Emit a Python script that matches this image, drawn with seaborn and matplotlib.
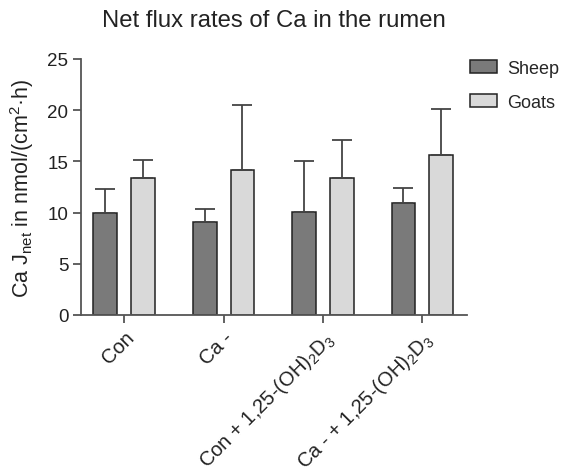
import matplotlib
matplotlib.use("Agg")
import matplotlib.pyplot as plt
import seaborn as sns
import pandas as pd
import numpy as np

categories = ["Con", "Ca -", "Con + 1,25-(OH)$_2$D$_3$", "Ca - + 1,25-(OH)$_2$D$_3$"]
species = ["Sheep", "Goats"]
sheep_mean = [10.0, 9.05, 10.1, 10.95]
sheep_err = [2.27, 1.35, 4.9, 1.48]
goats_mean = [13.35, 14.2, 13.35, 15.63]
goats_err = [1.82, 6.28, 3.77, 4.49]

sns.set_theme(style="ticks")
plt.rcParams['font.family'] = ['Liberation Sans', 'DejaVu Sans']
plt.rcParams['mathtext.fontset'] = 'custom'
plt.rcParams['mathtext.rm'] = 'Liberation Sans'
plt.rcParams['mathtext.it'] = 'Liberation Sans'

rows = []
for c, m in zip(categories, sheep_mean):
    rows.append({"Group": c, "Species": "Sheep", "Value": m})
for c, m in zip(categories, goats_mean):
    rows.append({"Group": c, "Species": "Goats", "Value": m})
df = pd.DataFrame(rows)

fig = plt.figure(figsize=(5.65, 4.77), dpi=100)
ax = fig.add_axes([81/565, 1-316/477, (467-81)/565, (316-60)/477])

palette = {"Sheep": "#7a7a7a", "Goats": "#d9d9d9"}
sns.barplot(data=df, x="Group", y="Value", hue="Species", order=categories,
            hue_order=species, palette=palette, width=0.76, gap=0.37,
            edgecolor="#222222", linewidth=1.1, ax=ax, errorbar=None, saturation=1)

errs = {"Sheep": sheep_err, "Goats": goats_err}
means = {"Sheep": sheep_mean, "Goats": goats_mean}
for sp, cont in zip(species, ax.containers):
    xs = [p.get_x() + p.get_width() / 2 for p in cont.patches]
    e = errs[sp]
    ax.errorbar(xs, means[sp], yerr=[np.zeros(len(e)), e], fmt="none",
                ecolor="#444444", elinewidth=1.3, capsize=7.5, capthick=1.3, zorder=1)

ax.set_ylim(0, 25)
ax.set_yticks([0, 5, 10, 15, 20, 25])
ax.set_xlim(-0.435, 3.45)
ax.set_xlabel("")
ax.set_ylabel("Ca J$_{net}$ in nmol/(cm$^{2}$·h)", fontsize=15.5, color="#222222", labelpad=8)
ax.set_title("Net flux rates of Ca in the rumen", fontsize=17.2, color="#222222", pad=24)
sns.despine(ax=ax)
for s in ["left", "bottom"]:
    ax.spines[s].set_linewidth(1.3)
    ax.spines[s].set_color("#555555")
ax.tick_params(axis="both", width=1.3, length=6, color="#555555", labelsize=13.5,
               labelcolor="#222222", pad=3)
ax.set_xticks(range(len(categories)))
ax.set_xticklabels(categories, rotation=45, ha="right", rotation_mode="anchor", fontsize=14.5)

ax.legend(loc="upper left", bbox_to_anchor=(470/565, 1-61/477), bbox_transform=fig.transFigure,
          frameon=False, fontsize=13, handlelength=1.5, handleheight=0.75,
          labelspacing=0.95, borderaxespad=0, borderpad=0, handletextpad=0.55)

fig.savefig("out.png", dpi=100)
